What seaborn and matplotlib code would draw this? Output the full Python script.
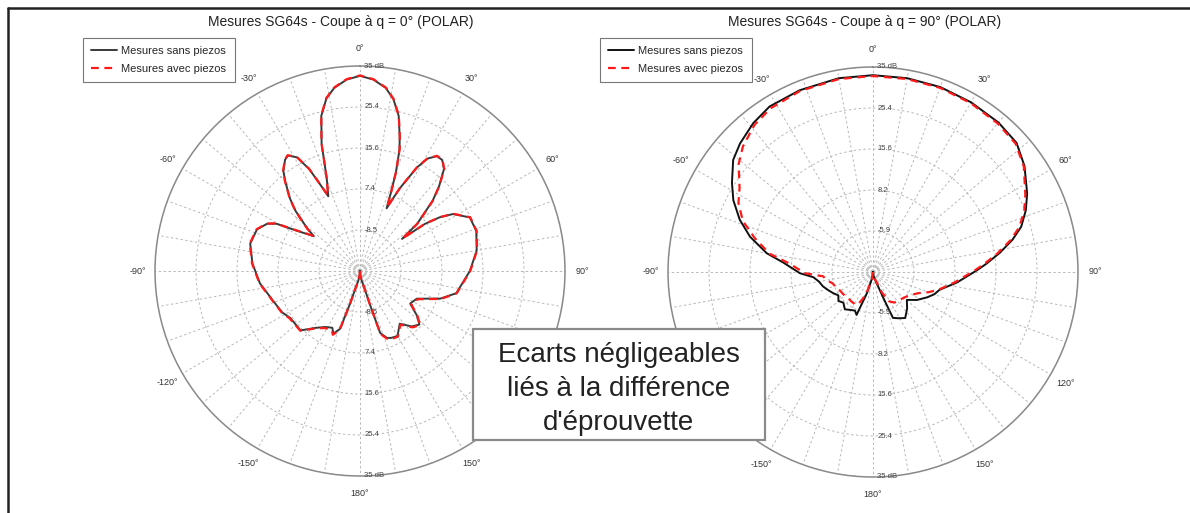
import numpy as np
import matplotlib
matplotlib.use("Agg")
import matplotlib.pyplot as plt
import seaborn as sns
from matplotlib.lines import Line2D
from matplotlib.patches import Rectangle

sns.set_style("white")
plt.rcParams['font.family'] = ['Liberation Sans', 'DejaVu Sans']

# ---------------- data (angles in degrees, levels in dB) ----------------
angles_left = [-180, -175, -170, -166, -163, -161, -157, -154, -148, -142, -135, -124, -118,
               -109, -97, -86, -76, -68, -63, -60.5, -57.5, -53, -51, -47, -44, -40, -37.5,
               -34, -32, -29, -26.5, -25, -23, -21.5, -19.7, -18, -16.8, -14, -11, -8, -4,
               0, 4, 8, 11, 14, 16.5, 18, 20, 21.5, 23, 24.5, 25.7, 28.8, 31, 33.8, 36.5,
               39.5, 43, 46, 50.5, 52.6, 54, 56, 58.5, 64, 71, 80, 90, 103, 109, 116, 123,
               128, 132, 137, 143, 150, 155, 158, 162, 163.5, 166, 170, 175, 180]
sans_left = [-15.0, -13.8, -12.6, -11.1, -6.5, -0.1, 1.6, 0.4, 1.1, 2.6, 5.5, 5.5, 6.5,
             7.4, 9.6, 11.3, 12.6, 12.1, 10.4, 8.4, 3.3, -0.9, 1.6, 6.5, 9.6, 13.3, 15.7,
             17.7, 18.2, 16.7, 12.8, 8.9, 4.8, 6.5, 9.1, 13.3, 17.4, 24.0, 27.9, 30.1, 31.8,
             32.6, 31.8, 30.1, 27.7, 24.0, 19.1, 16.2, 10.6, 5.7, 1.6, 4.5, 7.4, 13.8, 17.0,
             18.7, 18.7, 17.2, 13.3, 9.6, 3.0, -2.1, 4.5, 8.4, 11.6, 14.8, 15.0, 13.9, 11.8,
             9.1, 5.7, 0.4, -0.4, 2.6, 4.5, 3.5, 1.1, 3.3, 3.0, 2.6, 0.9, -6.5, -11.1,
             -12.6, -13.8, -15.0]
avec_left = [-15.0, -13.8, -12.6, -11.0, -6.2, 0.2, 1.9, 0.9, 1.4, 2.8, 5.6, 5.7, 6.6,
             7.5, 9.7, 11.4, 12.7, 12.2, 10.5, 8.6, 3.5, -0.7, 1.8, 6.6, 9.7, 13.4, 15.8,
             17.8, 18.3, 16.8, 12.9, 9.0, 5.0, 6.6, 9.2, 13.4, 17.5, 24.1, 28.0, 30.2, 31.9,
             32.7, 31.9, 30.2, 27.8, 24.1, 19.2, 16.3, 10.7, 5.8, 1.8, 4.6, 7.5, 13.9, 17.1,
             18.8, 18.8, 17.3, 13.4, 9.7, 3.2, -1.9, 4.6, 8.5, 11.7, 14.9, 15.1, 14.0, 11.9,
             9.2, 5.9, 0.7, -0.1, 2.8, 4.7, 3.8, 1.4, 3.5, 3.3, 2.9, 1.2, -6.3, -11.0,
             -12.5, -13.8, -15.0]

angles_right = [-180, -172, -164, -159, -155, -150, -143, -136, -130, -124, -118, -112, -106,
                -100, -95, -91, -84, -80, -74, -68.6, -62.8, -57.7, -51.3, -46, -38.8, -32,
                -22, -10, 0, 10, 20, 30, 40, 48, 55, 63, 68, 73, 77, 81.5, 86, 89, 97, 105,
                110, 115, 122.5, 129.5, 137, 145, 151, 156.5, 158, 162, 170, 180]
sans_right = [-15.0, -13.5, -9.6, -3.8, -4.6, -4.3, -3.6, -4.6, -4.0, -4.8, -4.0, -3.2, -2.3,
              -1.6, -0.4, 2.8, 7.0, 11.3, 16.2, 19.9, 23.3, 25.7, 28.7, 30.1, 31.6, 32.6,
              32.8, 33.0, 33.0, 33.0, 33.0, 32.8, 32.6, 32.1, 30.1, 27.2, 25.2, 22.8, 19.9,
              16.2, 12.6, 10.4, 5.7, 1.8, 0.9, -0.4, -2.3, -4.3, -2.8, -1.3, -2.1, -2.8, -7.7,
              -12.1, -13.8, -15.0]
avec_right = [-15.0, -13.5, -10.4, -8.0, -6.2, -6.0, -6.1, -6.2, -6.0, -5.9, -5.7, -5.2, -4.8,
              -3.6, -2.8, 1.6, 5.7, 10.6, 15.0, 19.1, 21.9, 23.5, 27.0, 29.1, 31.1, 32.1,
              32.6, 32.8, 32.8, 32.8, 32.8, 32.6, 32.3, 31.8, 29.9, 26.7, 24.8, 22.3, 19.4,
              15.7, 12.1, 9.9, 5.2, 1.6, -0.6, -2.8, -4.4, -5.2, -5.6, -5.9, -6.8, -9.5, -11.3,
              -12.8, -13.8, -15.0]

theta_label_text = {0: "0°", 30: "30°", 60: "60°", 90: "90°", 120: "120°", 150: "150°",
                    180: "180°", 210: "-150°", 240: "-120°", 270: "-90°", 300: "-60°", 330: "-30°"}
hidden_left = [120]      # covered by the note box in the reference
hidden_right = [240]
ring_values = [-5, 5, 15, 25, 35]
ring_labels_left = ["-8.5", "7.4", "15.6", "25.4", "35 dB"]
ring_labels_right = ["-5.9", "8.2", "15.6", "25.4", "35 dB"]
titles = ["Mesures SG64s - Coupe à q = 0° (POLAR)", "Mesures SG64s - Coupe à q = 90° (POLAR)"]
legend_labels = ["Mesures sans piezos", "Mesures avec piezos"]
note_text = "Ecarts négligeables\nliés à la différence\nd'éprouvette"

# ---------------- figure ----------------
W, H = 1190, 513
fig = plt.figure(figsize=(W / 100, H / 100), dpi=100)
fig.patch.set_facecolor("white")

R = 205
panels = [
    dict(cx=360, cy=271, ang=angles_left, sans=sans_left, avec=avec_left, hide=hidden_left,
         rl=ring_labels_left, title=titles[0], tx=341, leg_x=83, sans_col="#3a3a3a"),
    dict(cx=873, cy=272, ang=angles_right, sans=sans_right, avec=avec_right, hide=hidden_right,
         rl=ring_labels_right, title=titles[1], tx=865, leg_x=600, sans_col="#111111"),
]

for p in panels:
    rect = [(p["cx"] - R) / W, 1 - (p["cy"] + R) / H, 2 * R / W, 2 * R / H]
    ax = fig.add_axes(rect, projection="polar")
    ax.set_theta_zero_location("N")
    ax.set_theta_direction(-1)

    th = np.deg2rad(np.asarray(p["ang"], dtype=float))
    sns.lineplot(x=th, y=p["sans"], ax=ax, sort=False, estimator=None,
                 color=p["sans_col"], linewidth=1.4, zorder=3)
    sns.lineplot(x=th, y=p["avec"], ax=ax, sort=False, estimator=None,
                 color="#ff1a1a", linewidth=1.6, linestyle=(0, (3.5, 2.5)), zorder=4)
    ax.set_xlabel("")
    ax.set_ylabel("")
    ax.set_ylim(-15, 35)

    deg = np.arange(0, 360, 10)
    ax.set_xticks(np.deg2rad(deg))
    ax.set_xticklabels(["" if int(d) in p["hide"] else theta_label_text.get(int(d), "")
                        for d in deg], fontsize=6.5, color="#333333")
    ax.tick_params(axis="x", pad=2)
    ax.set_yticks(ring_values)
    ax.set_yticklabels([])
    ax.grid(True, color="#b8b8b8", linestyle=(0, (2.5, 2.5)), linewidth=0.7)
    ax.spines["polar"].set_color("#8a8a8a")
    ax.spines["polar"].set_linewidth(1.1)

    for v, lab in zip(ring_values, p["rl"]):
        for t in (0.0, np.pi):
            ax.annotate(lab, xy=(t, v), xytext=(3, 0), textcoords="offset points",
                        ha="left", va="center", fontsize=5.5, color="#444444", zorder=5)

    handles = [Line2D([], [], color=p["sans_col"], lw=1.4),
               Line2D([], [], color="#ff1a1a", lw=1.6, linestyle=(0, (3.5, 2.5)))]
    leg = ax.legend(handles, legend_labels, loc="upper left",
                    bbox_to_anchor=(p["leg_x"] / W, 1 - 38 / H),
                    bbox_transform=fig.transFigure, fontsize=8, frameon=True,
                    fancybox=False, edgecolor="#777777", framealpha=1,
                    borderaxespad=0, handlelength=2.3, borderpad=0.75,
                    labelspacing=0.7, handletextpad=0.4)
    leg.get_frame().set_linewidth(0.8)

    fig.text(p["tx"] / W, 1 - 22 / H, p["title"], ha="center", va="center",
             fontsize=10, color="#222222")

# annotation box
fig.add_artist(Rectangle((473 / W, 1 - 440 / H), (765 - 473) / W, (440 - 329) / H,
                         transform=fig.transFigure, facecolor="white",
                         edgecolor="#8a8a8a", linewidth=1.6, zorder=10))
fig.text(619 / W, 1 - 389 / H, note_text, ha="center", va="center", fontsize=20,
         linespacing=1.38, color="#222222", zorder=11)

# outer frame (top and left)
fig.add_artist(Line2D([8 / W, 1], [1 - 8 / H, 1 - 8 / H], transform=fig.transFigure,
                      color="#222222", linewidth=1.8, zorder=12))
fig.add_artist(Line2D([8 / W, 8 / W], [0, 1 - 8 / H], transform=fig.transFigure,
                      color="#222222", linewidth=1.8, zorder=12))

fig.savefig("out.png", dpi=100, facecolor="white")
